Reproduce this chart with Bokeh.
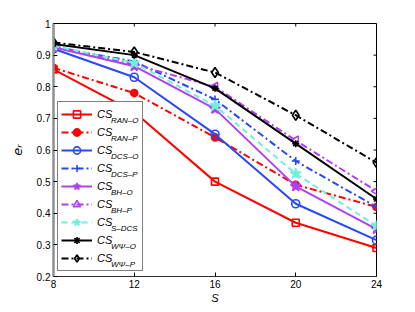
import math
from bokeh.plotting import figure
from bokeh.models import (FixedTicker, Legend, LegendItem, Range1d)
from bokeh.embed import file_html
from bokeh.resources import INLINE

# ---- data ----
S = [8, 12, 16, 20, 24]
ran_o = [0.855, 0.72, 0.50, 0.37, 0.29]
ran_p = [0.86, 0.78, 0.64, 0.49, 0.42]
dcs_o = [0.92, 0.83, 0.65, 0.43, 0.315]
dcs_p = [0.925, 0.88, 0.76, 0.565, 0.42]
bh_o = [0.925, 0.865, 0.73, 0.485, 0.35]
bh_p = [0.93, 0.87, 0.80, 0.63, 0.47]
s_dcs = [0.93, 0.875, 0.74, 0.525, 0.36]
wpsi_o = [0.935, 0.90, 0.795, 0.62, 0.445]
wpsi_p = [0.94, 0.91, 0.845, 0.71, 0.56]
x_ticks = [8, 12, 16, 20, 24]
y_ticks = [0.2, 0.3, 0.4, 0.5, 0.6, 0.7, 0.8, 0.9, 1.0]
sub_labels = ["RAN–O", "RAN–P", "DCS–O", "DCS–P", "BH–O", "BH–P", "S–DCS", "WΨ–O", "WΨ–P"]

FONT = "Liberation Sans"
RED = "#FF0000"
BLUE = "#2848F8"
PURPLE = "#B040F0"
CYAN = "#70F0D8"
BLACK = "#000000"

X0, X1, Y0, Y1 = 8, 24, 0.2, 1.0
p = figure(width=407, height=306, output_backend="svg", toolbar_location=None,
           x_range=Range1d(X0, X1), y_range=Range1d(Y0, Y1),
           min_border_left=53, min_border_right=31, min_border_top=23, min_border_bottom=29)
p.background_fill_color = "white"
p.border_fill_color = "white"
p.outline_line_color = "black"
p.outline_line_width = 1
p.grid.visible = False

for ax in (p.xaxis[0], p.yaxis[0]):
    ax.major_tick_in = 4
    ax.major_tick_out = 0
    ax.minor_tick_line_color = None
    ax.major_label_text_font = FONT
    ax.major_label_text_font_size = "10px"
    ax.major_label_text_color = "black"
    ax.major_tick_line_color = "black"

p.xaxis[0].ticker = FixedTicker(ticks=x_ticks)
p.yaxis[0].ticker = FixedTicker(ticks=y_ticks)
p.yaxis[0].major_label_overrides = {1: "1"}
p.xaxis[0].major_label_standoff = 3
p.yaxis[0].major_label_standoff = 3
p.xaxis[0].axis_label = "S"
p.xaxis[0].axis_label_text_font = FONT
p.xaxis[0].axis_label_text_font_style = "italic"
p.xaxis[0].axis_label_text_font_size = "11px"
p.xaxis[0].axis_label_text_color = "black"
p.xaxis[0].axis_label_standoff = 1
p.xaxis[0].axis_line_color = "#303030"
p.yaxis[0].axis_line_color = "#909090"
p.yaxis[0].axis_line_width = 2.5
p.yaxis[0].axis_label = "eᵣ"
p.yaxis[0].axis_label_text_font = "DejaVu Sans"
p.yaxis[0].axis_label_text_font_style = "italic"
p.yaxis[0].axis_label_text_font_size = "13px"
p.yaxis[0].axis_label_text_color = "black"
p.yaxis[0].axis_label_standoff = 9

# ticks on the top and right edges (MATLAB box style)
p.ray(x=x_ticks, y=[Y1] * len(x_ticks), length=3, length_units="screen",
      angle=-math.pi / 2, line_color="black", line_width=1)
p.ray(x=[X1] * len(y_ticks), y=y_ticks, length=3, length_units="screen",
      angle=math.pi, line_color="black", line_width=1)

DD = "7 3 2 3"
series = [
    (ran_o, RED, "solid", "square", 7, None),
    (ran_p, RED, DD, "circle", 7, RED),
    (dcs_o, BLUE, "solid", "circle", 8, None),
    (dcs_p, BLUE, DD, "cross", 8, None),
    (bh_o, PURPLE, "solid", "star", 11, PURPLE),
    (bh_p, PURPLE, DD, "triangle", 9, None),
    (s_dcs, CYAN, "6 4", "star", 11, CYAN),
    (wpsi_o, BLACK, "solid", "asterisk", 7, None),
    (wpsi_p, BLACK, DD, "diamond", 10, None),
]

items = []
for vals, col, dash, mk, sz, fill in series:
    l = p.line(S, vals, line_color=col, line_width=2, line_dash=dash)
    kw = dict(marker=mk, size=sz, line_color=col, line_width=1.6)
    if fill is None:
        kw["fill_alpha"] = 0
    else:
        kw["fill_color"] = fill
    if mk == "triangle":
        kw["angle"] = math.pi / 2
    m = p.scatter(S, vals, **kw)
    items.append(LegendItem(label="CS", renderers=[l, m]))

PAD, ROW, LX, LY, GW = 3, 18, 4, 5, 31
legend = Legend(items=items, location=(LX, LY), padding=PAD, spacing=0,
                glyph_width=GW, glyph_height=ROW, label_height=ROW, label_width=42,
                label_standoff=5, label_text_font=FONT, label_text_font_style="italic",
                label_text_font_size="11px", label_text_baseline="bottom",
                label_text_color="black",
                border_line_color="black", border_line_width=1,
                background_fill_color="white", background_fill_alpha=1, margin=0)
p.add_layout(legend, "center")

# second, transparent legend carrying the subscripts (its sample glyph is invisible)
ghost = p.line(S, ran_o, line_alpha=0)
sub_items = [LegendItem(label=s, renderers=[ghost]) for s in sub_labels]
sub_legend = Legend(items=sub_items, location=(LX, LY - 5), padding=PAD, spacing=0,
                    glyph_width=GW, glyph_height=ROW, label_height=ROW, label_width=30,
                    label_standoff=20, label_text_font=FONT, label_text_font_style="italic",
                    label_text_font_size="8px", label_text_baseline="alphabetic",
                    label_text_color="black",
                    border_line_alpha=0, background_fill_alpha=0, margin=0)
p.add_layout(sub_legend, "center")

open("out.html", "w").write(file_html(p, INLINE))
